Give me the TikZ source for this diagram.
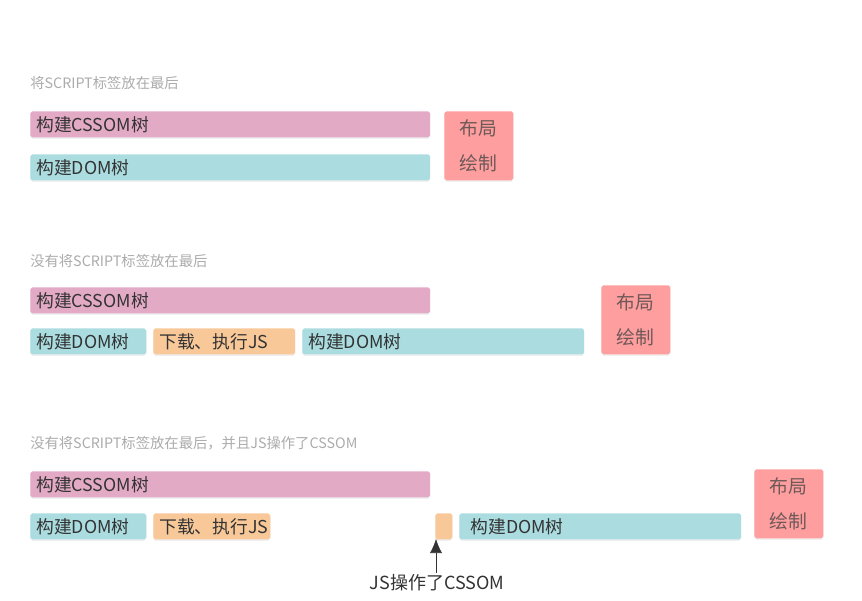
\documentclass[tikz,border=0pt]{standalone}
\usepackage{fontspec}
\setmainfont{Noto Sans CJK SC}
\usetikzlibrary{arrows.meta,shadows}
\definecolor{cssom}{HTML}{E3AAC6}
\definecolor{dom}{HTML}{AADCE0}
\definecolor{js}{HTML}{F8C899}
\definecolor{paint}{HTML}{FF9E9E}
\definecolor{ink}{HTML}{333333}
\definecolor{paintink}{HTML}{6E5858}
\definecolor{cap}{HTML}{ABABAB}
\tikzset{
  bar/.style={anchor=north west,rounded corners=1.5pt,inner xsep=6*0.0265cm,inner ysep=0pt,
    minimum height=26*0.0265cm,align=left,text=ink,font=\fontsize{13.4}{15}\selectfont,
    drop shadow={opacity=0.12,shadow xshift=0pt,shadow yshift=-1.2pt}},
  paintbox/.style={anchor=north west,rounded corners=1.5pt,inner sep=0pt,
    minimum width=1.8285cm,minimum height=1.8285cm,align=center,text=paintink,fill=paint,
    font=\fontsize{14.2}{27}\selectfont,drop shadow={opacity=0.12,shadow xshift=0pt,shadow yshift=-1.2pt}},
  caption/.style={anchor=west,text=cap,font=\fontsize{10.8}{12}\selectfont,inner sep=0pt}
}
\begin{document}
\begin{tikzpicture}[x=0.0265cm,y=-0.0265cm]
\useasboundingbox (0,0) rectangle (862,601);

% script a la fin
\node[caption] (t1) at (30,83) {将SCRIPT标签放在最后};
\node[bar,fill=cssom,text width=10.282cm] (c1) at (30,111) {构建CSSOM树};
\node[bar,fill=dom,text width=10.282cm] (d1) at (30,154) {构建DOM树};
\node[paintbox] (p1) at (444,111) {布局\\绘制};

% script au milieu
\node[caption] (t2) at (30,261) {没有将SCRIPT标签放在最后};
\node[bar,fill=cssom,text width=10.282cm] (c2) at (30,287) {构建CSSOM树};
\node[bar,fill=dom,text width=2.756cm] (d2a) at (30,328) {构建DOM树};
\node[bar,fill=js,text width=3.445cm] (j2) at (153,328) {下载、执行JS};
\node[bar,fill=dom,text width=7.155cm] (d2b) at (302,328) {构建DOM树};
\node[paintbox] (p2) at (601,285) {布局\\绘制};

% le JS touche au CSSOM
\node[caption] (t3) at (30,443) {没有将SCRIPT标签放在最后，并且JS操作了CSSOM};
\node[bar,fill=cssom,text width=10.282cm] (c3) at (30,471) {构建CSSOM树};
\node[bar,fill=dom,text width=2.756cm] (d3a) at (30,513) {构建DOM树};
\node[bar,fill=js,text width=2.7825cm] (j3) at (153,513) {下载、执行JS};
\node[bar,fill=js,text width=0.1325cm] (jsop) at (435,513) {};
\node[bar,fill=dom,text width=7.155cm] (d3b) at (459,513) {\hspace{4pt}构建DOM树};
\node[paintbox] (p3) at (754,469) {布局\\绘制};

\coordinate (hit) at (436,539);
\node[text=ink,font=\fontsize{13.6}{15}\selectfont,inner sep=1pt] (note) at (437,583) {JS操作了CSSOM};
\draw[ink,-{Latex[length=14*0.0265cm,width=12*0.0265cm]}] (note.north -| hit) -- (hit);
\end{tikzpicture}
\end{document}
